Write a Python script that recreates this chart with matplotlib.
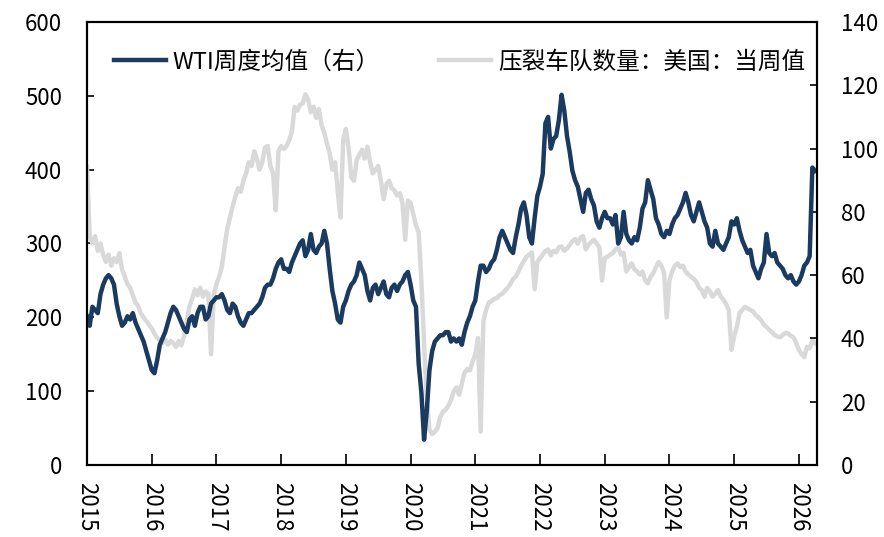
import numpy as np
import matplotlib
matplotlib.use("Agg")
import matplotlib.pyplot as plt

plt.rcParams['font.family'] = ['Noto Sans CJK SC', 'DejaVu Sans']

# half-month sampling, start 2015
start_year = 2015
years = list(range(2015, 2027))

# WTI weekly mean (right axis), every half month
wti = [
    47, 44, 50, 49, 48, 54, 57, 59, 60, 59, 57, 51, 47, 44, 45, 47, 46, 48, 45, 43, 41, 39, 36, 33,
    30, 29, 33, 38, 40, 42, 45, 48, 50, 49, 47, 45, 43, 42, 46, 47, 44, 48, 50, 50, 46, 47, 51, 52,
    53, 53, 54, 52, 49, 48, 51, 50, 47, 45, 44, 46, 48, 48, 49, 50, 51, 53, 56, 57, 57, 59, 62, 64,
    65, 62, 62, 61, 64, 66, 68, 70, 71, 66, 68, 73, 68, 67, 69, 70, 74, 70, 62, 55, 51, 46, 45, 50,
    52, 55, 57, 58, 60, 64, 62, 60, 55, 52, 56, 57, 54, 56, 58, 54, 53, 56, 57, 55, 57, 58, 60, 61,
    57, 52, 50, 32, 23, 8, 17, 30, 36, 39, 40, 41, 41, 42, 42, 39, 40, 39, 40, 38, 42, 45, 47, 50,
    52, 58, 63, 63, 61, 62, 64, 65, 68, 72, 74, 72, 70, 68, 67, 72, 76, 81, 83, 79, 72, 70, 78, 85,
    88, 92, 108, 110, 100, 103, 104, 109, 117, 112, 104, 99, 93, 90, 88, 84, 80, 86, 87, 84, 82, 77, 75, 78,
    80, 78, 78, 76, 79, 70, 72, 80, 73, 71, 70, 72, 71, 75, 81, 83, 90, 87, 84, 78, 76, 73, 72, 74,
    73, 76, 78, 79, 81, 83, 86, 83, 79, 77, 80, 83, 80, 77, 75, 70, 69, 74, 70, 69, 68, 70, 72, 77,
    76, 78, 74, 71, 69, 67, 68, 63, 61, 59, 62, 64, 73, 67, 66, 67, 64, 63, 62, 60, 59, 60, 58, 57,
    58, 60, 63, 64, 66, 94, 93,
]

# US frac spread count (left axis)
frac = [
    404, 310, 300, 310, 290, 300, 285, 275, 285, 270, 280, 275, 287, 265, 255, 245, 240, 230, 220, 215, 205, 200, 195, 190,
    185, 178, 172, 169, 165, 170, 163, 168, 165, 160, 168, 162, 175, 195, 215, 225, 238, 230, 240, 228, 235, 232, 150, 230,
    245, 255, 268, 295, 320, 335, 350, 363, 375, 370, 385, 395, 410, 405, 425, 415, 400, 410, 430, 432, 405, 395, 345, 425,
    432, 428, 432, 440, 452, 485, 480, 488, 490, 502, 495, 478, 485, 470, 482, 460, 450, 435, 422, 400, 410, 370, 335, 440,
    455, 430, 390, 385, 413, 420, 427, 415, 431, 410, 395, 400, 405, 385, 360, 380, 385, 375, 372, 365, 368, 355, 305, 358,
    355, 340, 325, 315, 250, 165, 90, 48, 42, 45, 50, 65, 72, 75, 80, 88, 100, 105, 95, 110, 125, 130, 128, 140,
    150, 172, 45, 195, 210, 220, 222, 225, 226, 230, 232, 236, 240, 245, 252, 255, 262, 270, 276, 282, 285, 288, 238, 275,
    280, 285, 290, 292, 284, 290, 288, 295, 296, 290, 293, 298, 303, 306, 300, 308, 310, 292, 298, 302, 305, 300, 295, 250,
    280, 282, 285, 287, 292, 295, 285, 287, 262, 268, 273, 265, 262, 258, 262, 250, 246, 255, 260, 268, 275, 270, 260, 200,
    250, 262, 270, 273, 268, 270, 262, 258, 255, 252, 248, 240, 237, 228, 240, 235, 228, 232, 237, 228, 224, 218, 210, 156,
    175, 187, 206, 210, 214, 212, 210, 208, 203, 200, 196, 190, 187, 183, 180, 176, 174, 173, 176, 179, 178, 175, 173, 165,
    156, 150, 146, 160, 158, 169, 165,
]

t = start_year + np.arange(len(wti)) / 24

fig = plt.figure(figsize=(8.84, 5.37), dpi=100)
ax = fig.add_axes([87/884, 72/537, 730/884, 443/537])
ax2 = ax.twinx()

l2, = ax.plot(t, frac, color='#D9D9D9', lw=3.2, label='压裂车队数量：美国：当周值')
l1, = ax2.plot(t, wti, color='#1B3A5F', lw=3.2, label='WTI周度均值（右）')

ax.set_xlim(2015, 2026.28)
ax.set_ylim(0, 600)
ax2.set_ylim(0, 140)
ax.set_yticks(range(0, 601, 100))
ax2.set_yticks(range(0, 141, 20))
ax.set_xticks(years)
ax.set_xticklabels([str(y) for y in years], rotation=270)

for a in (ax, ax2):
    for s in a.spines.values():
        s.set_linewidth(1.5)
        s.set_color('black')
ax.tick_params(axis='y', direction='in', length=5, width=1.2, pad=18, labelsize=16)
ax.tick_params(axis='x', direction='in', length=8, width=1.2, pad=12, labelsize=16)
ax2.tick_params(axis='y', which='both', direction='in', length=5, width=1.2, pad=17, labelsize=16)

leg = ax2.legend(handles=[l1, l2], ncol=2, loc='center', bbox_to_anchor=(0.51, 0.91),
                 frameon=False, fontsize=17, handlelength=2.2, handletextpad=0.3,
                 columnspacing=2.5)

fig.savefig('out.png', dpi=100)
